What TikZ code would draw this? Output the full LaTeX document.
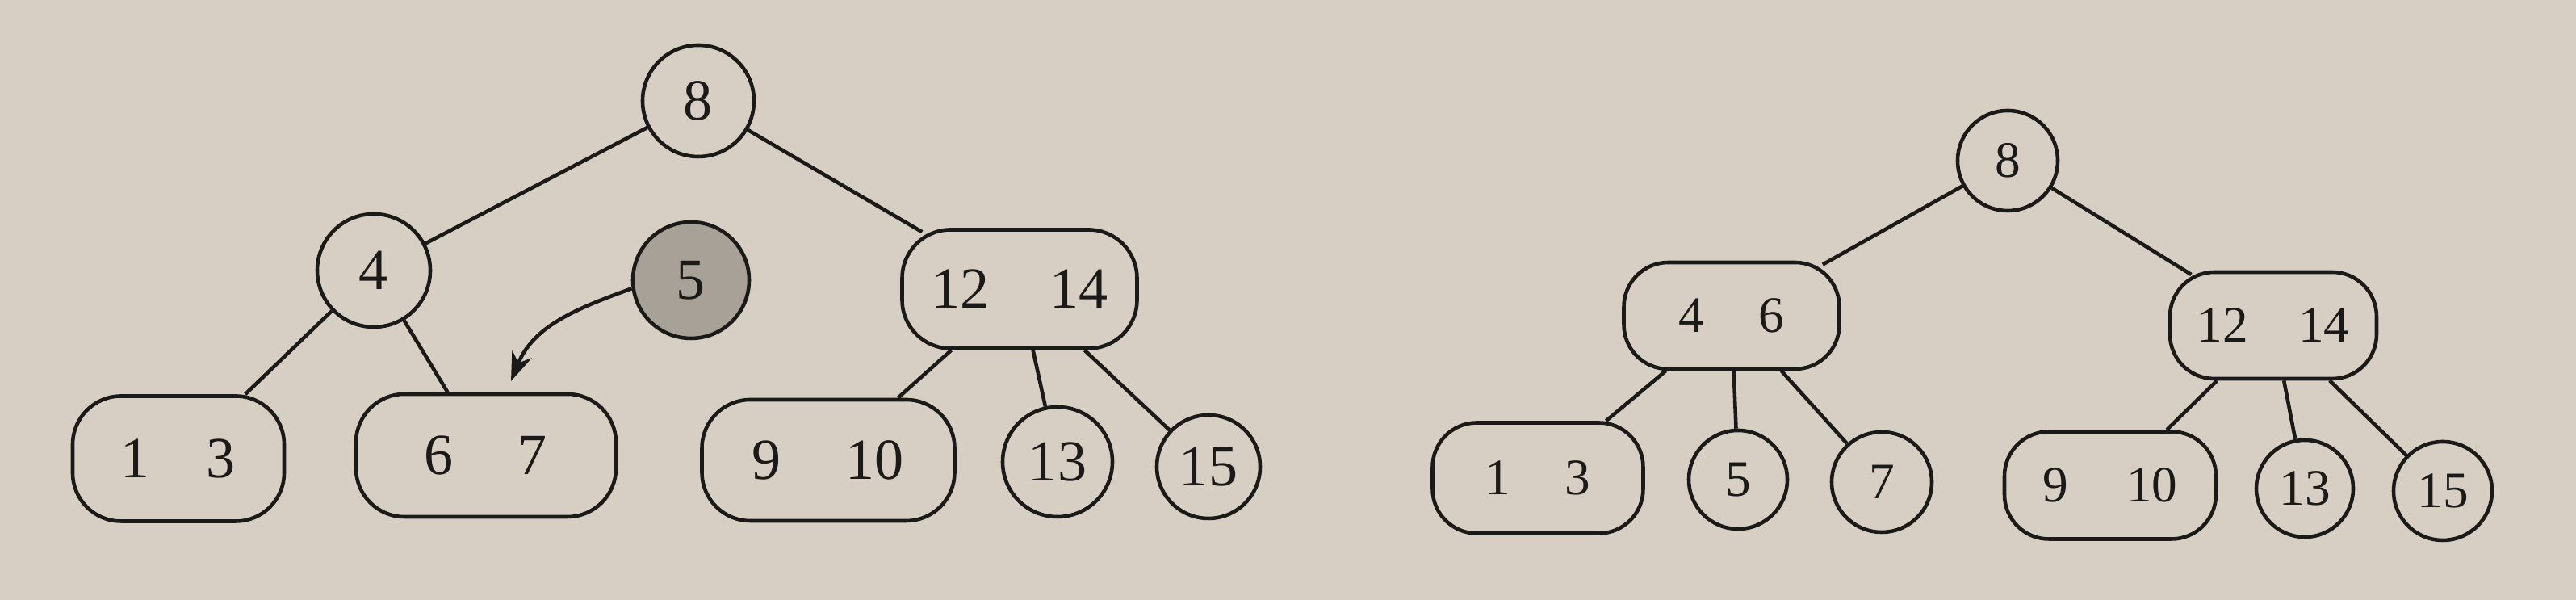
\documentclass[tikz,border=0pt]{standalone}
\usepackage{fontspec}
\setmainfont{Liberation Serif}
\usetikzlibrary{arrows.meta}
\definecolor{paper}{RGB}{215,207,196}
\definecolor{ink}{RGB}{28,26,24}
\definecolor{shade}{RGB}{168,161,152}
\newcommand\keypair[3][7.5mm]{#2\hspace{#1}#3}

\begin{document}
\begin{tikzpicture}[
		keycirc/.style={draw=ink, circle, line width=1.3pt, inner sep=0pt},
		keybox/.style={draw=ink, rectangle, rounded corners=0.6cm, line width=1.3pt, inner sep=0pt},
		bigkeys/.style={font=\fontsize{20.5}{20.5}\selectfont, text=ink},
		smallkeys/.style={font=\fontsize{18}{18}\selectfont, text=ink},
		link/.style={draw=ink, line width=1.3pt},
		tocorner/.style={shorten >=-0.1cm}
	]
				\useasboundingbox (0,0) rectangle (31.91,7.43);
				\fill[paper] (0,0) rectangle (31.91,7.43);
				
				% left tree, 5 about to go in
				\node[keycirc, bigkeys, minimum size=1.38cm] (l8) at (8.65,6.18) {8};
				\node[keycirc, bigkeys, minimum size=1.40cm] (l4) at (4.63,4.08) {4};
				\node[keycirc, bigkeys, minimum size=1.44cm, fill=shade] (l5) at (8.56,3.96) {5};
				\node[keybox, bigkeys, minimum width=2.91cm, minimum height=1.47cm] (l12x14) at (12.63,3.85) {\keypair{12}{14}};
				\node[keybox, bigkeys, minimum width=2.62cm, minimum height=1.55cm] (l1x3) at (2.21,1.75) {\keypair[7mm]{1}{3}};
				\node[keybox, bigkeys, minimum width=3.22cm, minimum height=1.52cm] (l6x7) at (6.02,1.79) {\keypair[8mm]{6}{7}};
				\node[keybox, bigkeys, minimum width=3.13cm, minimum height=1.50cm] (l9x10) at (10.26,1.73) {\keypair[8mm]{9}{10}};
				\node[keycirc, bigkeys, minimum size=1.36cm] (l13) at (13.10,1.71) {13};
				\node[keycirc, bigkeys, minimum size=1.28cm] (l15) at (14.97,1.65) {15};
				
				\draw[link] (l8) -- (l4);
				\draw[link, tocorner] (l8) -- (l12x14);
				\draw[link] (l4) -- (l1x3);
				\draw[link] (l4) -- (l6x7);
				\draw[link] (l12x14) -- (l9x10);
				\draw[link] (l12x14) -- (l13);
				\draw[link] (l12x14) -- (l15);
				
				\coordinate (drop) at (6.33,2.71);
				\draw[link, -{Stealth[length=0.36cm, width=0.26cm]}] (l5.188) to[out=200, in=68] (drop);
				
				% right tree, after the split
				\node[keycirc, smallkeys, minimum size=1.24cm] (r8) at (24.87,5.44) {8};
				\node[keybox, smallkeys, minimum width=2.67cm, minimum height=1.32cm, rounded corners=0.55cm] (r4x6) at (21.45,3.52) {\keypair[6.8mm]{4}{6}};
				\node[keybox, smallkeys, minimum width=2.56cm, minimum height=1.32cm, rounded corners=0.55cm] (r12x14) at (28.16,3.40) {\keypair[6.2mm]{12}{14}};
				\node[keybox, smallkeys, minimum width=2.61cm, minimum height=1.37cm, rounded corners=0.55cm] (r1x3) at (19.05,1.51) {\keypair[6.8mm]{1}{3}};
				\node[keycirc, smallkeys, minimum size=1.22cm] (r5) at (21.53,1.49) {5};
				\node[keycirc, smallkeys, minimum size=1.24cm] (r7) at (23.31,1.46) {7};
				\node[keybox, smallkeys, minimum width=2.62cm, minimum height=1.33cm, rounded corners=0.55cm] (r9x10) at (26.14,1.42) {\keypair[7.2mm]{9}{10}};
				\node[keycirc, smallkeys, minimum size=1.20cm] (r13) at (28.55,1.38) {13};
				\node[keycirc, smallkeys, minimum size=1.22cm] (r15) at (30.26,1.35) {15};
				
				\draw[link, tocorner] (r8) -- (r4x6);
				\draw[link, tocorner] (r8) -- (r12x14);
				\draw[link] (r4x6) -- (r1x3);
				\draw[link] (r4x6) -- (r5);
				\draw[link] (r4x6) -- (r7);
				\draw[link] (r12x14) -- (r9x10);
				\draw[link] (r12x14) -- (r13);
				\draw[link] (r12x14) -- (r15);
			\end{tikzpicture}
\end{document}
